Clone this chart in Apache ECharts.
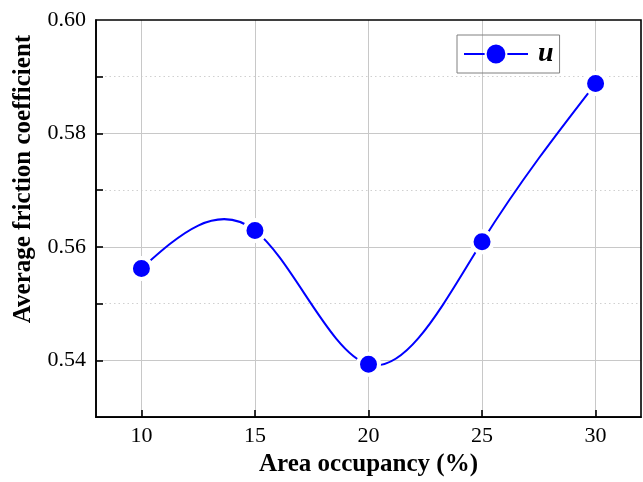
<!DOCTYPE html>
<html>
<head>
<meta charset="utf-8">
<script src="https://cdn.jsdelivr.net/npm/echarts@6/dist/echarts.min.js"></script>
<style>
html,body{margin:0;padding:0;background:#fff;}
#c{width:643px;height:482px;}
</style>
</head>
<body>
<div id="c"></div>
<script>
var xValues = [10, 15, 20, 25, 30];
var uValues = [0.5562, 0.5629, 0.5393, 0.5609, 0.5888];
var seriesName = 'u';
var xTicks = [10, 15, 20, 25, 30];
var yMajorTicks = [0.54, 0.56, 0.58, 0.60];
var yMajorLines = [0.54, 0.56, 0.58];
var yAllTicks = [0.54, 0.55, 0.56, 0.57, 0.58, 0.59];
var xTitle = 'Area occupancy (%)';
var yTitle = 'Average friction coefficient';

var serif = '"Liberation Serif", "DejaVu Serif", serif';
var BLUE = '#0000ff';

// natural cubic spline second derivatives (connection style of the original plot)
function splineM(xs, ys) {
  var n = xs.length, M = new Array(n).fill(0);
  if (n < 3) return M;
  var a = [], b = [], c = [], d = [];
  for (var i = 1; i < n - 1; i++) {
    var h0 = xs[i] - xs[i - 1], h1 = xs[i + 1] - xs[i];
    a.push(h0); b.push(2 * (h0 + h1)); c.push(h1);
    d.push(6 * ((ys[i + 1] - ys[i]) / h1 - (ys[i] - ys[i - 1]) / h0));
  }
  var m = b.length;
  for (var k = 1; k < m; k++) {
    var w = a[k] / b[k - 1];
    b[k] -= w * c[k - 1]; d[k] -= w * d[k - 1];
  }
  var sol = new Array(m);
  sol[m - 1] = d[m - 1] / b[m - 1];
  for (var k2 = m - 2; k2 >= 0; k2--) sol[k2] = (d[k2] - c[k2] * sol[k2 + 1]) / b[k2];
  for (var j = 0; j < m; j++) M[j + 1] = sol[j];
  return M;
}

function renderSpline(params, api) {
  var xs = xValues, ys = uValues, M = splineM(xs, ys);
  var p0 = api.coord([xs[0], ys[0]]);
  var path = 'M' + p0[0] + ' ' + p0[1];
  for (var i = 0; i < xs.length - 1; i++) {
    var h = xs[i + 1] - xs[i];
    var s = (ys[i + 1] - ys[i]) / h;
    var d0 = s - h * (2 * M[i] + M[i + 1]) / 6;
    var d1 = s + h * (M[i] + 2 * M[i + 1]) / 6;
    var c1 = api.coord([xs[i] + h / 3, ys[i] + d0 * h / 3]);
    var c2 = api.coord([xs[i + 1] - h / 3, ys[i + 1] - d1 * h / 3]);
    var p1 = api.coord([xs[i + 1], ys[i + 1]]);
    path += ' C' + c1[0] + ' ' + c1[1] + ' ' + c2[0] + ' ' + c2[1] + ' ' + p1[0] + ' ' + p1[1];
  }
  return {
    type: 'path',
    shape: {pathData: path},
    style: {fill: 'none', stroke: BLUE, lineWidth: 2}
  };
}

var chart = echarts.init(document.getElementById('c'), null, {renderer: 'canvas'});
var option = {
  backgroundColor: '#fff',
  animation: false,
  grid: {left: 96, right: 2, top: 20, bottom: 59, show: true, borderColor: '#000', borderWidth: 1.6, z: 3},
  legend: {
    data: [seriesName],
    left: 457, top: 35,
    padding: [5, 6, 5, 6],
    itemWidth: 64, itemHeight: 26,
    borderColor: '#808080', borderWidth: 1,
    lineStyle: {color: BLUE, width: 2, opacity: 1},
    textStyle: {fontFamily: serif, fontSize: 28, fontWeight: 'bold', fontStyle: 'italic', color: '#000', padding: [0, 0, 0, 5]}
  },
  xAxis: {
    type: 'value', min: 8, max: 32,
    name: xTitle, nameLocation: 'middle', nameGap: 30,
    nameTextStyle: {fontFamily: serif, fontSize: 25, fontWeight: 'bold', color: '#000'},
    axisLine: {show: true, lineStyle: {color: '#000', width: 1.6}},
    axisTick: {show: true, inside: true, length: 7, customValues: xTicks, lineStyle: {color: '#000', width: 1.6}},
    axisLabel: {customValues: xTicks, margin: 8, fontFamily: serif, fontSize: 22, color: '#000'},
    splitLine: {show: true, lineStyle: {color: '#c8c8c8', width: 1}}
  },
  yAxis: [{
    type: 'value', min: 0.53, max: 0.60,
    axisLine: {show: true, lineStyle: {color: '#000', width: 1.6}},
    axisTick: {show: true, inside: true, length: 7, customValues: yAllTicks, lineStyle: {color: '#000', width: 1.6}},
    axisLabel: {customValues: yMajorTicks, margin: 10, fontFamily: serif, fontSize: 22, color: '#000',
      formatter: function (v) { return v.toFixed(2); }},
    splitLine: {show: true, lineStyle: {color: '#d0d0d0', width: 1, type: [1.5, 3]}}
  }, {
    type: 'value', min: 0.53, max: 0.60, position: 'left',
    axisLine: {show: false},
    axisTick: {show: false, customValues: yMajorLines},
    axisLabel: {show: false, customValues: yMajorLines},
    splitLine: {show: true, lineStyle: {color: '#c8c8c8', width: 1}}
  }],
  graphic: [{
    type: 'text', x: 24, y: 179, rotation: Math.PI / 2,
    style: {text: yTitle, fontFamily: serif, fontSize: 25, fontWeight: 'bold', fill: '#000', align: 'center', verticalAlign: 'middle'}
  }],
  series: [{
    name: 'spline', type: 'custom', coordinateSystem: 'cartesian2d',
    data: [[xValues[0], uValues[0]]],
    renderItem: renderSpline,
    silent: true, z: 3
  }, {
    name: seriesName, type: 'line',
    data: xValues.map(function (x, i) { return [x, uValues[i]]; }),
    symbol: 'circle', symbolSize: 21,
    lineStyle: {color: BLUE, width: 2, opacity: 0},
    itemStyle: {color: BLUE, borderColor: '#fff', borderWidth: 4},
    z: 4
  }]
};
chart.setOption(option);
</script>
</body>
</html>
